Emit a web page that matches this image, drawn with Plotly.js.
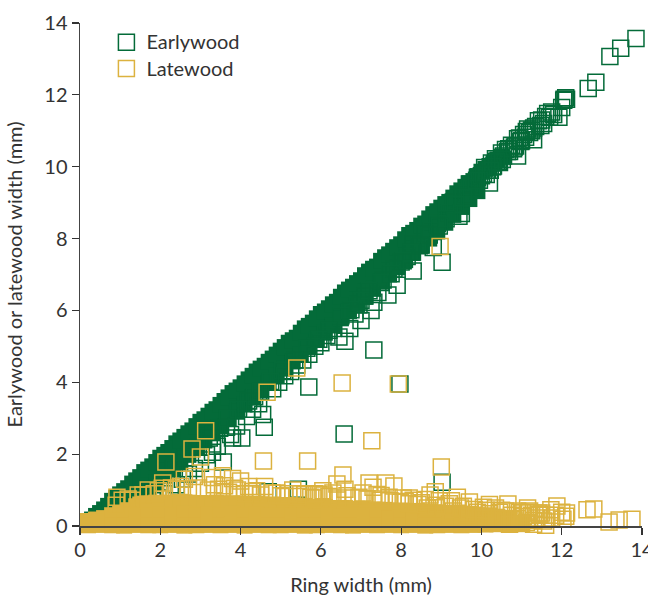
<!DOCTYPE html>
<html><head><meta charset="utf-8">
<script src="https://cdn.plot.ly/plotly-3.0.1.min.js"></script>
<style>html,body{margin:0;padding:0;background:#fff;overflow:hidden}#w{width:648px;height:596px;overflow:hidden}#c{width:660px;height:596px}</style>
</head><body><div id="w"><div id="c"></div></div>
<script>
// Dense core of the earlywood band: upper edge, lower edge, and intermediate rows
const earlyCoreX = [0.2,0.4,0.6,0.8,1.0,1.2,1.4,1.6,1.8,2.0,2.2,2.4,2.6,2.8,3.0,3.2,3.4,3.6,3.8,4.0,4.2,4.4,4.6,4.8,5.0,5.2,5.4,5.6,5.8,6.0,6.2,6.4,6.6,6.8,7.0,7.2,7.4,7.6,7.8,8.0,8.2,8.4,8.6,8.8,9.0,9.2,9.4,9.6,9.8,10.0,10.2,10.4,
0.4,0.6,0.8,1.0,1.2,1.4,1.6,1.8,2.0,2.2,2.4,2.6,2.8,3.0,3.2,3.4,3.6,3.8,4.0,4.2,4.4,4.6,4.8,5.0,5.2,5.4,5.6,5.8,6.0,6.2,6.4,6.6,6.8,7.0,7.2,7.4,7.6,7.8,8.0,8.2,8.4,8.6,8.8,9.0,9.2,9.4,9.6,
0.3,0.5,0.7,0.9,1.1,1.3,1.5,1.7,1.9,2.1,2.3,2.5,2.7,2.9,3.1,3.3,3.5,3.7,3.9,4.1,4.3,4.5,4.7,4.9,5.1,5.3,5.5,5.7,5.9,6.1,6.3,6.5,6.7,6.9,7.1,7.3,7.5,7.7,7.9,8.1,8.3,8.5,8.7,8.9,9.1,9.3,9.5,9.7,9.9,10.1,10.3,10.5,
0.9,1.1,1.3,1.5,1.7,1.9,2.1,2.3,2.5,2.7,2.9,3.1,3.3,3.5,3.7,3.9,4.1,4.3,4.5,4.7,4.9,5.1,5.3,5.5,5.7,5.9,6.1,6.3,6.5,6.7,6.9,7.1,7.3,7.5,7.7,7.9,8.1,8.3,8.5,8.7,8.9,9.1,9.3,9.5,9.7,9.9];
const earlyCoreY = [0.12,0.28,0.46,0.7,0.88,1.05,1.27,1.5,1.66,1.9,2.06,2.3,2.48,2.66,2.9,3.07,3.25,3.48,3.7,3.86,4.08,4.3,4.46,4.66,4.88,5.1,5.24,5.5,5.66,5.9,6.06,6.24,6.5,6.66,6.84,7.08,7.22,7.48,7.66,7.84,8.1,8.24,8.42,8.68,8.86,9.02,9.26,9.44,9.6,9.86,10.02,10.2,
0.08,0.2,0.34,0.52,0.72,0.9,1.1,1.3,1.5,1.68,1.88,2.1,2.3,2.46,2.68,2.9,3.1,3.26,3.46,3.68,3.9,4.1,4.28,4.5,4.7,4.88,5.1,5.3,5.5,5.7,5.88,6.1,6.3,6.5,6.68,6.9,7.1,7.3,7.52,7.74,7.9,8.12,8.34,8.55,8.8,9.0,9.22,
0.18,0.36,0.56,0.78,0.97,1.18,1.36,1.57,1.78,1.98,2.17,2.38,2.58,2.78,2.97,3.18,3.37,3.58,3.77,3.97,4.18,4.38,4.57,4.77,4.98,5.17,5.38,5.57,5.78,5.97,6.17,6.38,6.58,6.76,6.98,7.16,7.38,7.56,7.76,7.98,8.16,8.36,8.56,8.76,8.96,9.14,9.34,9.54,9.74,9.94,10.1,10.28,
0.34,0.44,0.62,0.8,1.0,1.2,1.4,1.6,1.78,1.98,2.18,2.38,2.58,2.78,2.98,3.18,3.38,3.58,3.78,3.98,4.18,4.38,4.58,4.78,4.98,5.18,5.38,5.58,5.78,5.98,6.18,6.38,6.6,6.8,7.0,7.2,7.4,7.6,7.8,8.0,8.2,8.44,8.66,8.88,9.1,9.32];
// Open earlywood squares
const earlyX = [13.85,13.47,13.2,12.85,12.66,12.06,12.05,12.1,12.0,11.93,11.7,11.6,11.55,11.42,11.3,11.25,11.15,11.05,11.0,10.9,10.85,10.75,10.7,10.6,10.55,10.5,10.42,10.35,10.3,10.25,10.15,10.08,10.0,9.9,9.8,9.7,9.62,9.44,9.3,9.2,9.02,8.9,8.75,8.6,8.45,8.3,8.15,8.0,7.9,7.82,7.67,7.55,7.42,7.32,7.25,7.1,6.95,6.85,6.6,6.45,6.3,6.15,6.0,5.85,5.7,5.55,5.4,5.25,5.1,4.95,4.8,4.69,4.59,4.45,4.3,4.15,4.03,3.9,3.75,3.57,3.42,3.3,3.15,3.0,2.85,2.7,2.55,2.4,2.25,2.1,1.95,1.8,1.6,1.4,1.2,0.95,0.75,5.44,7.32,9.02,6.58,7.97,5.7,7.0,6.72,8.3,8.8,9.5,10.2,10.9,11.3,12.12,3.3,3.65,3.8,4.35,4.55,
11.8,11.65,11.48,11.35,11.2,11.1,10.95,10.8,10.65,10.45,10.28,10.12,9.95,9.75,9.55,9.35,9.12,8.95,8.7,8.5,8.25,8.05,7.75,7.5,7.2,7.0,6.75,6.5,6.2,5.95,5.65,5.35,5.05,4.75,4.5,4.2,3.95,3.68,3.48,3.22,2.95,2.62,2.35,11.75,11.5,11.25,11.12,10.98,10.82,10.68,10.52,10.38,10.22,10.05,9.88];
const earlyY = [13.57,13.3,13.07,12.35,12.18,11.88,11.85,11.92,11.65,11.38,11.38,11.4,11.2,11.28,11.08,11.02,11.05,10.9,10.72,10.78,10.58,10.6,10.42,10.48,10.3,10.38,10.15,10.22,10.02,10.1,9.9,9.98,9.75,9.7,9.5,9.52,9.25,8.62,9.02,8.72,7.34,8.42,8.22,8.12,7.8,7.85,7.5,7.35,6.7,7.15,6.43,6.85,6.5,6.23,6.0,6.4,6.15,5.9,5.14,5.26,5.5,5.3,5.1,5.0,3.87,4.62,4.48,4.3,4.18,4.0,3.82,0.95,2.75,3.4,3.25,3.05,2.45,2.78,2.55,1.78,2.22,2.05,1.98,1.75,1.6,1.45,1.3,1.15,1.02,0.9,0.78,0.7,0.6,0.56,0.5,0.55,0.52,1.02,4.9,1.22,2.56,3.95,4.78,5.72,5.5,7.1,7.75,8.7,9.55,10.3,10.75,11.88,2.28,2.75,2.45,3.6,3.1,
11.45,11.48,11.15,11.12,10.95,10.82,10.8,10.5,10.42,10.12,10.0,9.78,9.62,9.4,9.15,8.95,8.55,8.35,8.1,7.82,7.62,7.38,7.02,6.78,6.55,6.28,6.02,5.85,5.45,5.2,4.95,4.62,4.32,4.02,3.75,3.48,3.25,3.0,2.72,2.45,2.2,1.9,1.6,11.52,11.3,11.0,10.98,10.7,10.55,10.5,10.2,10.15,9.9,9.8,9.62];
// Dense core of the latewood band
const lateCoreX = [0.2,0.4,0.6,0.8,1.0,1.2,1.4,1.6,1.8,2.0,2.2,2.4,2.6,2.8,3.0,3.2,3.4,3.6,3.8,4.0,4.2,4.4,4.6,4.8,5.0,5.2,5.4,5.6,5.8,6.0,6.2,6.4,6.6,6.8,7.0,7.2,7.4,7.6,7.8,8.0,8.2,8.4,8.6,8.8,9.0,9.2,9.4,9.6,9.8,10.0,10.2,10.4,
1.5,1.7,1.9,2.1,2.3,2.5,2.7,2.9,3.1,3.3,3.5,3.7,3.9,4.1,4.3,4.5,4.7,4.9,5.1,5.3,5.5,5.7,5.9,6.1,6.3,6.5,6.7,6.9,7.1,7.3,7.5,7.7,7.9,8.1,8.3,8.5,8.7,8.9,9.1,9.3,9.5,9.7,9.9,
0.2,0.5,0.8,1.1,1.4,1.7,2.0,2.3,2.6,2.9,3.2,3.5,3.8,4.1,4.4,4.7,5.0,5.3,5.6,5.9,6.2,6.5,6.8,7.1,7.4,7.7,8.0,8.3,8.6,8.9,9.2,9.5,9.8,10.1,10.4,10.7,
0.2,0.5,0.8,1.1,1.4,1.7,2.0,2.3,2.6,2.9,3.2,3.5,3.8,4.1,4.4,4.7,5.0,5.3,5.6,5.9,6.2,6.5,6.8,7.1,7.4,7.7,8.0,8.3,8.6,8.9,9.2,9.5,9.8,10.1,10.4,10.7,11.0];
const lateCoreY = [0.14,0.18,0.22,0.3,0.34,0.44,0.55,0.62,0.62,0.64,0.65,0.62,0.66,0.63,0.64,0.62,0.65,0.6,0.63,0.62,0.6,0.62,0.57,0.6,0.55,0.58,0.54,0.56,0.5,0.52,0.5,0.47,0.5,0.44,0.47,0.44,0.42,0.45,0.4,0.43,0.38,0.42,0.36,0.38,0.36,0.33,0.34,0.3,0.32,0.28,0.3,0.26,
0.6,0.63,0.65,0.62,0.64,0.62,0.65,0.62,0.63,0.6,0.63,0.61,0.6,0.62,0.59,0.6,0.58,0.57,0.58,0.55,0.56,0.53,0.52,0.53,0.5,0.5,0.47,0.48,0.46,0.46,0.44,0.43,0.42,0.42,0.4,0.4,0.38,0.38,0.36,0.35,0.34,0.33,0.3,
0.1,0.12,0.14,0.2,0.26,0.3,0.32,0.3,0.34,0.3,0.32,0.3,0.34,0.3,0.32,0.28,0.3,0.28,0.3,0.26,0.28,0.26,0.28,0.24,0.26,0.22,0.24,0.24,0.2,0.22,0.2,0.2,0.18,0.2,0.2,0.18,
0.02,0.03,0.02,0.01,0.03,0.02,0.02,0.03,0.01,0.02,0.03,0.02,0.03,0.01,0.03,0.02,0.02,0.03,0.01,0.02,0.03,0.02,0.01,0.03,0.02,0.03,0.02,0.03,0.01,0.02,0.03,0.02,0.03,0.04,0.05,0.03,0.05];
// Open latewood squares
const lateX = [13.75,13.43,13.18,12.8,12.63,12.03,12.1,11.88,11.73,11.6,11.45,11.3,11.2,11.05,10.95,10.8,10.66,10.5,10.35,10.2,10.05,9.9,9.7,9.4,9.2,9.0,8.95,8.72,8.5,8.3,8.05,7.82,7.62,7.3,7.2,7.27,6.55,6.4,6.2,5.95,5.67,5.5,5.3,5.1,4.9,4.57,4.4,4.2,4.0,3.8,3.55,3.35,3.13,3.0,2.79,2.6,2.4,2.14,1.95,1.57,1.2,0.92,0.9,5.4,4.66,8.97,6.53,7.93,2.06,3.3,3.6,3.85,4.6,5.75,6.8,7.5,8.1,8.85,9.55,10.2,10.9,11.15,11.5,12.0,11.85,2.85,3.55,4.25,
10.6,10.75,10.9,11.02,11.12,11.25,11.38,11.55,10.45,10.3,10.12,9.98,9.82,9.65,9.48,9.3,9.1,8.88,8.65,8.42,8.2,7.98,7.72,7.48,7.15,6.95,6.65,6.42,6.08,5.82,5.6,5.42,5.2,5.0,4.78,4.5,4.3,4.1,3.92,3.7,3.45,3.2,2.95,2.7,2.5,2.28,2.05,1.85,1.7,1.45,1.3,1.05,
11.0,10.85,10.7,10.55,11.18,11.3,11.42,11.6,11.75,12.12,6.6,6.3,6.05,5.85,7.05,7.4,7.7,8.2,8.6,9.25];
const lateY = [0.19,0.17,0.11,0.47,0.45,0.19,0.27,0.56,0.45,0.3,0.33,0.15,0.42,0.26,0.38,0.18,0.61,0.44,0.5,0.34,0.52,0.38,0.67,0.8,0.62,1.64,0.7,0.86,0.65,0.72,0.78,1.11,1.2,1.08,1.2,2.37,1.42,1.17,0.82,0.88,1.81,0.9,1.0,0.82,0.92,1.81,0.98,1.1,1.25,1.32,1.4,1.15,2.65,1.92,2.14,1.3,1.02,1.78,0.98,0.86,0.75,0.8,0.58,4.4,3.72,7.78,3.98,3.95,1.2,1.35,1.12,1.05,1.1,0.8,0.78,0.85,0.68,0.95,0.55,0.6,0.42,0.5,0.36,0.38,0.3,1.38,0.95,0.9,
0.42,0.3,0.2,0.36,0.1,0.3,0.22,0.14,0.38,0.14,0.44,0.2,0.46,0.32,0.5,0.42,0.55,0.58,0.5,0.6,0.62,0.66,0.7,0.72,0.76,0.8,0.84,0.78,0.86,0.78,0.88,0.82,0.9,0.84,0.92,0.86,0.96,0.9,1.0,0.94,1.02,1.0,1.06,1.04,1.1,1.06,1.05,0.9,1.0,0.86,0.72,0.72,
0.08,0.14,0.05,0.2,0.38,0.05,0.36,0.02,0.22,0.36,1.02,0.92,0.98,0.9,0.92,0.88,0.8,0.78,0.74,0.7];

const tickVals = [0,2,4,6,8,10,12,14];
const green = '#046b39', yellow = '#dcb23f';
const sq = 16;

function core(x, y, c){
  return {x, y, type:'scatter', mode:'markers', cliponaxis:false, showlegend:false, hoverinfo:'skip',
    marker:{symbol:'square', size:sq, color:c, line:{width:0}}};
}
function open(x, y, c, name){
  return {x, y, name, type:'scatter', mode:'markers', cliponaxis:false,
    marker:{symbol:'square-open', size:sq, color:c, line:{width:1.5, color:c}}};
}
const axisBase = {range:[0,14], tickvals:tickVals, ticks:'outside', ticklen:7, tickwidth:1.2,
  tickcolor:'#333', showline:true, linewidth:1.5, linecolor:'#444', showgrid:false, zeroline:false,
  tickfont:{size:20, color:'#333'}};
Plotly.newPlot('c', [
  core(earlyCoreX, earlyCoreY, green),
  open(earlyX, earlyY, green, '<span style="font-size:20px">Earlywood</span>'),
  core(lateCoreX, lateCoreY, yellow),
  open(lateX, lateY, yellow, '<span style="font-size:20px">Latewood</span>')
], {
  width:660, height:596, paper_bgcolor:'#fff', plot_bgcolor:'#fff',
  font:{family:'Lato,"Noto Sans",sans-serif', size:20, color:'#333'},
  margin:{l:80, r:18, t:23, b:70, pad:0},
  showlegend:true,
  legend:{x:0.047, y:0.998, xanchor:'left', yanchor:'top', bgcolor:'rgba(0,0,0,0)', font:{size:18, color:'#333'}, itemwidth:30, tracegroupgap:0},
  xaxis:Object.assign({}, axisBase, {ticklabelstandoff:-2, title:{text:'Ring width (mm)', font:{size:20, color:'#333'}, standoff:23}}),
  yaxis:Object.assign({}, axisBase, {title:{text:'Earlywood or latewood width (mm)', font:{size:20, color:'#333'}, standoff:16}})
}, {displayModeBar:false, staticPlot:true});
</script></body></html>
